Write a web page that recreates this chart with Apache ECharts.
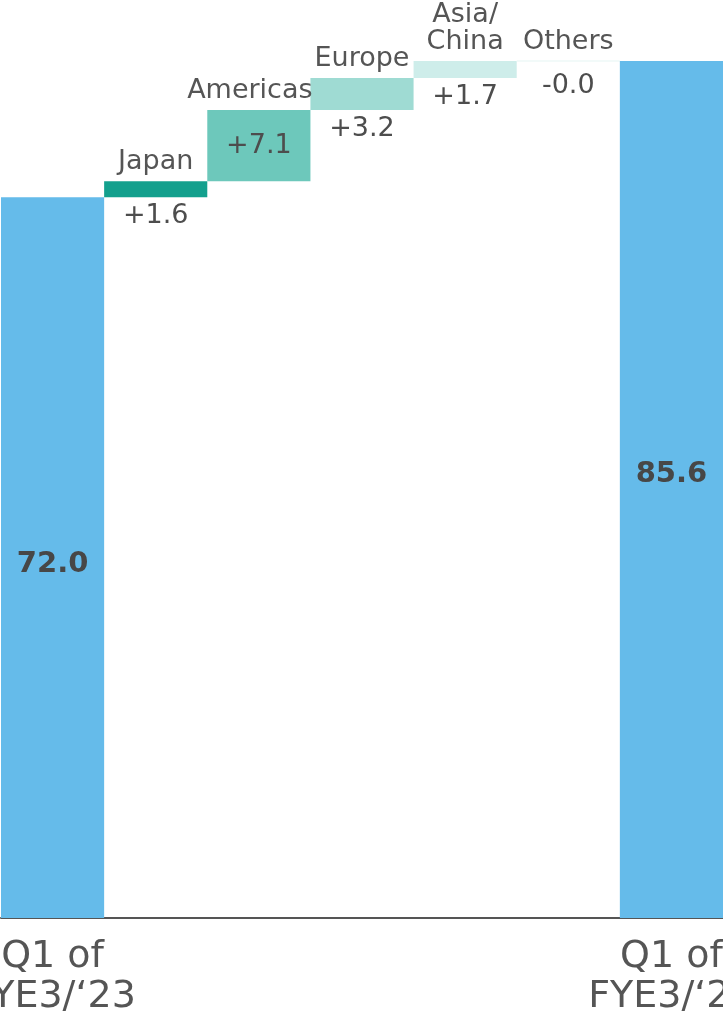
<!DOCTYPE html>
<html>
<head>
<meta charset="utf-8">
<style>
  html, body { margin: 0; padding: 0; background: #ffffff; }
  #chart { width: 723px; height: 1016px; }
</style>
<script src="https://cdn.jsdelivr.net/npm/echarts@6/dist/echarts.min.js"></script>
</head>
<body>
<div id="chart"></div>
<script>
// Net sales bridge, Q1 of FYE3/'23 → Q1 of FYE3/'24 (by region)
const categories = ['Q1 of\nFYE3/\u201823', 'Japan', 'Americas', 'Europe', 'Asia/\nChina', 'Others', 'Q1 of\nFYE3/\u201824'];
const startTotal = 72.0;
const regionDeltas = [1.6, 7.1, 3.2, 1.7, -0.04];
const endTotal = 85.6;
const regionColors = ['#13a08d', '#6dc8bb', '#9fdbd3', '#ceedea', '#e6f5f3'];
const totalColor = '#65bbea';

const FONT = '"DejaVu Sans", Verdana, sans-serif';
const TEXT = '#555555';
const LAST = categories.length - 1;

// Build floating (invisible base) + visible segment for each column
const baseData = [];
const barData = [];
let running = startTotal;
baseData.push(0);
barData.push({
  value: startTotal, isTotal: true, itemStyle: { color: totalColor },
  label: { position: 'inside', offset: [0, 7] }
});
regionDeltas.forEach((d, i) => {
  const next = running + d;
  baseData.push(Math.min(running, next));
  const big = Math.abs(d) >= 5;
  const flat = Math.abs(d) < 0.05;
  barData.push({
    value: Math.abs(d),
    delta: d,
    itemStyle: { color: regionColors[i] },
    label: { position: big ? 'inside' : 'bottom', distance: flat ? 11 : 5 }
  });
  running = next;
});
baseData.push(0);
barData.push({
  value: endTotal, isTotal: true, itemStyle: { color: totalColor },
  label: { position: 'inside', offset: [0, -15] }
});

const fmtDelta = d => (d >= 0 ? '+' : '-') + Math.abs(d).toFixed(1);

// Region names: zero-height segments stacked on top, labelled above
const nameData = categories.map((c, i) => ({
  value: 0,
  label: i === 2 ? { offset: [-9, 0] } : {}
}));

const chart = echarts.init(document.getElementById('chart'));
chart.setOption({
  animation: false,
  grid: { left: 1, right: 0, top: 17, bottom: 98, containLabel: false, outerBoundsMode: 'none' },
  xAxis: {
    type: 'category',
    data: categories,
    axisLine: { lineStyle: { color: '#555555', width: 2 } },
    axisTick: { show: false },
    axisLabel: {
      interval: 0,
      hideOverlap: false,
      margin: 19,
      fontFamily: FONT,
      fontSize: 38,
      lineHeight: 40,
      color: TEXT,
      overflow: 'none',
      formatter: (v, idx) => (idx === 0 || idx === LAST) ? v : ''
    }
  },
  yAxis: {
    type: 'value',
    min: 0,
    max: 90,
    show: false,
    splitLine: { show: false }
  },
  series: [
    {
      type: 'bar',
      stack: 'w',
      barWidth: '100%',
      silent: true,
      itemStyle: { color: 'transparent' },
      data: baseData
    },
    {
      type: 'bar',
      stack: 'w',
      barWidth: '100%',
      barMinHeight: 1,
      z: 3,
      label: {
        show: true,
        fontFamily: FONT,
        fontSize: 27,
        color: '#4d4d4d',
        overflow: 'none',
        formatter: p => p.data.isTotal ? p.value.toFixed(1) : fmtDelta(p.data.delta)
      },
      data: barData.map(d => d.isTotal ? Object.assign({}, d, {
        label: Object.assign({}, d.label, { fontWeight: 'bold', fontSize: 29, color: '#474747' })
      }) : d)
    },
    {
      type: 'bar',
      stack: 'w',
      barWidth: '100%',
      silent: true,
      z: 5,
      itemStyle: { color: 'transparent' },
      label: {
        show: true,
        position: 'top',
        distance: 6,
        fontFamily: FONT,
        fontSize: 27,
        lineHeight: 27,
        color: TEXT,
        overflow: 'none',
        formatter: p => (p.dataIndex === 0 || p.dataIndex === LAST) ? '' : categories[p.dataIndex]
      },
      data: nameData
    }
  ]
});
</script>
</body>
</html>
